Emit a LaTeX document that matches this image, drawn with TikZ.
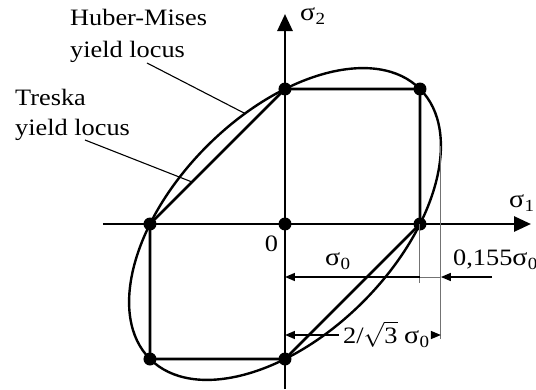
\documentclass[tikz,border=0pt]{standalone}
\usepackage{fontspec}
\setmainfont{Liberation Serif}[FakeStretch=1.12]
\usetikzlibrary{arrows.meta,calc}
\newcommand\sg[1]{{\fontsize{25}{25}\selectfont σ}\kern0.3pt\raisebox{-0.45ex}{\fontsize{17}{17}\selectfont #1}}
\begin{document}
\begin{tikzpicture}[x=1pt,y=1pt,
  dot/.style={circle,fill=black,inner sep=0pt,minimum size=13pt},
  axis/.style={line width=2.8pt,-{Triangle[length=17pt,width=15pt]}},
  tres/.style={line width=2.7pt},
  mises/.style={line width=2.4pt},
  dim/.style={line width=1.5pt},
  dimtip/.style={-{Triangle[length=10pt,width=8pt]}},
  guide/.style={line width=1pt,black!55},
  leader/.style={line width=1.1pt},
  lbl/.style={font=\fontsize{23.5}{23.5}\selectfont,inner sep=0pt},
  ]
\useasboundingbox (-285,-165) rectangle (251,224);
\def\s{135}
% axes
\coordinate (xl) at (-182,0);
\coordinate (xr) at (246,0);
\coordinate (yb) at (0,-165);
\coordinate (yt) at (0,210);
\draw[axis] (xl) -- (xr);
\draw[axis] (yb) -- (yt);
% Mises ellipse
\draw[mises,rotate=45] (0,0) ellipse [x radius={sqrt(2)*\s}, y radius={sqrt(2/3)*\s}];
% Tresca hexagon
\node[dot] (O) at (0,0) {};
\node[dot] (T) at (0,\s) {};
\node[dot] (TR) at (\s,\s) {};
\node[dot] (R) at (\s,0) {};
\node[dot] (L) at (-\s,0) {};
\node[dot] (BL) at (-\s,-\s) {};
\node[dot] (B) at (0,-\s) {};
\draw[tres] (T.center) -- (TR.center) -- (R.center) -- (B.center) -- (BL.center) -- (L.center) -- cycle;
% guide lines
\coordinate (g1) at (\s,-59);
\coordinate (m1) at ({2/sqrt(3)*\s},{\s/sqrt(3)});
\coordinate (g2) at ({2/sqrt(3)*\s},-115);
\draw[guide] (R.center) -- (g1);
\draw[guide] (m1) -- (g2);
% sigma_0 dimension
\coordinate (d1l) at (0,-53);
\coordinate (d1r) at (\s,-53);
\coordinate (d1g) at ({2/sqrt(3)*\s},-53);
\coordinate (d1e) at (207,-53);
\draw[dim,dimtip,{Triangle[length=10pt,width=8pt]}-] (d1l) -- (d1r);
\draw[guide] (d1r) -- (d1g);
\draw[dim,dimtip] (d1e) -- (d1g);
\node[lbl,anchor=base west] (ls0) at (40,-41) {\sg{0}};
\node[lbl,anchor=base west] (l155) at (168,-41) {0,155\sg{0}};
% 2/sqrt3 dimension
\coordinate (d2l) at (0,-111);
\coordinate (d2r) at ({2/sqrt(3)*\s},-111);
\node[lbl,anchor=base west,inner xsep=4pt] (l23) at (54,-119) {2/$\sqrt{\mbox{3}}$ \sg{0}};
\draw[dim,dimtip] (l23.west |- d2l) -- (d2l);
\draw[dim,dimtip] (l23.east |- d2r) -- (d2r);
% axis labels
\node[lbl,anchor=base west] (ls1) at (224,17) {\sg{1}};
\node[lbl,anchor=base west] (ls2) at (15,204) {\sg{2}};
\node[lbl] (l0) at (-13.5,-19.5) {0};
% locus labels
\node[lbl,anchor=base west] (hm1) at (-215,199) {Huber-Mises};
\node[lbl,anchor=base west] (hm2) at (-215,167) {yield locus};
\node[lbl,anchor=base west] (tr1) at (-270,119) {Treska};
\node[lbl,anchor=base west] (tr2) at (-270,89) {yield locus};
\coordinate (hmA) at (-138,161);
\coordinate (hmB) at (-40,110.5);
\coordinate (trA) at (-200,84);
\coordinate (trB) at (-93,42);
\draw[leader] (hmA) -- (hmB);
\draw[leader] (trA) -- (trB);
\end{tikzpicture}
\end{document}
